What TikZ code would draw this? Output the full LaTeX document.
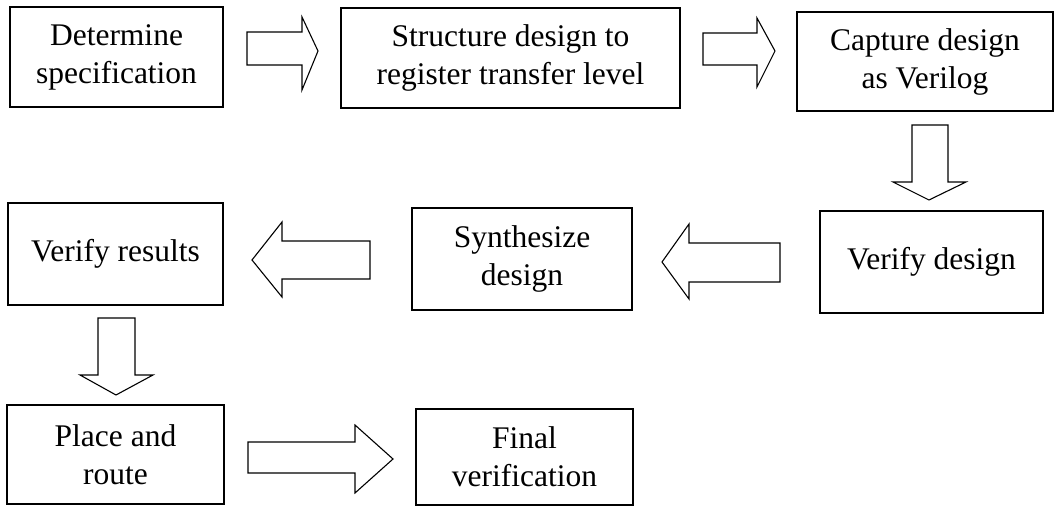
\documentclass[tikz,border=0pt]{standalone}
\usepackage{fontspec}
\setmainfont{Liberation Serif}
\begin{document}
\begin{tikzpicture}[x=1pt,y=-1pt,
  stepbox/.style={draw,line width=1.1pt,inner sep=0pt,align=center,
    font=\fontsize{31.5}{38}\selectfont},
  blockarr/.style={draw,line width=1.1pt,line join=miter}]
\useasboundingbox (0,0) rectangle (1061,510);
% boxes
\node[stepbox,minimum width=213pt,minimum height=100pt] (b1) at (116.5,57) {Determine\\specification};
\node[stepbox,minimum width=339pt,minimum height=100pt] (b2) at (510.5,58) {Structure design to\\register transfer level};
\node[stepbox,minimum width=256pt,minimum height=99pt] (b3) at (925,61.5) {Capture design\\as Verilog};
\node[stepbox,minimum width=223pt,minimum height=102pt] (b4) at (931.5,262) {Verify design};
\node[stepbox,minimum width=220pt,minimum height=102pt] (b5) at (522,259) {Synthesize\\design};
\node[stepbox,minimum width=215pt,minimum height=102pt] (b6) at (115.5,254) {Verify results};
\node[stepbox,minimum width=217pt,minimum height=99pt] (b7) at (115.5,454.5) {Place and\\route};
\node[stepbox,minimum width=217pt,minimum height=96pt] (b8) at (524.5,457) {Final\\verification};
% block arrows
% b1 -> b2
\draw[blockarr] (247,32) -- (302,32) -- (302,17) -- (318,51) -- (302,90) -- (302,65) -- (247,65) -- cycle;
% b2 -> b3
\draw[blockarr] (703,33) -- (757,33) -- (757,18) -- (775,51) -- (757,87) -- (757,65) -- (703,65) -- cycle;
% b3 -> b4
\draw[blockarr] (912,125) -- (948,125) -- (948,182) -- (966,182) -- (929,200) -- (893,182) -- (912,182) -- cycle;
% b4 -> b5
\draw[blockarr] (780,243) -- (689,243) -- (689,224) -- (662,262) -- (689,299) -- (689,282) -- (780,282) -- cycle;
% b5 -> b6
\draw[blockarr] (370,241) -- (282,241) -- (282,222) -- (252,260) -- (282,297) -- (282,279) -- (370,279) -- cycle;
% b6 -> b7
\draw[blockarr] (98,318) -- (135,318) -- (135,375) -- (153,375) -- (116,395) -- (80,375) -- (98,375) -- cycle;
% b7 -> b8
\draw[blockarr] (248,442) -- (355,442) -- (355,425) -- (393,459) -- (355,493) -- (355,473) -- (248,473) -- cycle;
\end{tikzpicture}
\end{document}
